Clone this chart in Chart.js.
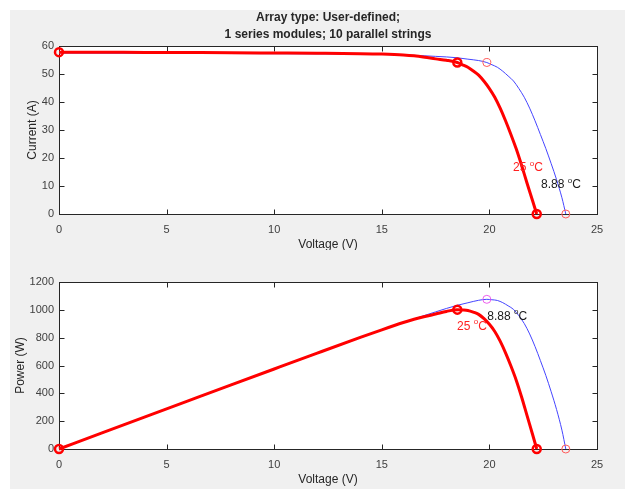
<!DOCTYPE html>
<html>
<head>
<meta charset="utf-8">
<script src="https://cdn.jsdelivr.net/npm/chart.js@4.4.1/dist/chart.umd.min.js"></script>
<style>
  html, body { margin: 0; padding: 0; background: #ffffff; }
  #fig { position: absolute; left: 10px; top: 10px; width: 615px; height: 479px; background: #f0f0f0; }
  canvas { position: absolute; left: 0; }
  #ivChart { top: 0; }
  #pvChart { top: 250px; }
</style>
</head>
<body>
<div id="fig"></div>
<canvas id="ivChart" width="625" height="250"></canvas>
<canvas id="pvChart" width="625" height="239"></canvas>
<script>
// 25 degC curve
const redV = [0, 2, 4, 6, 8, 10, 12, 14, 15, 16, 16.5, 17, 17.5, 18, 18.51, 18.75, 19, 19.25, 19.5, 19.75, 20, 20.25, 20.5, 20.75, 21, 21.25, 21.5, 21.75, 22, 22.2];
const redI = [57.8, 57.75, 57.7, 57.65, 57.6, 57.5, 57.4, 57.25, 57.1, 56.8, 56.5, 56.0, 55.4, 54.9, 54.1, 53.3, 52.4, 51.1, 49.6, 47.4, 44.8, 41.7, 37.8, 33.3, 28.4, 23.2, 17.3, 11.0, 4.9, 0];
const redP = [0, 115.5, 230.8, 345.9, 460.8, 575, 688.8, 801.5, 856.5, 908.8, 932.3, 952, 969.5, 988.2, 1001.4, 999.4, 995.6, 983.7, 967.2, 936.2, 896, 844.4, 774.9, 691, 596.4, 493, 372, 239.3, 107.8, 0];

// 8.88 degC curve
const blueV = [0, 5, 10, 15, 16, 17, 17.5, 18, 18.5, 19, 19.5, 19.88, 20.12, 20.37, 20.62, 20.87, 21.12, 21.37, 21.62, 21.87, 22.12, 22.37, 22.62, 22.87, 23.12, 23.37, 23.55];
const blueI = [57.5, 57.4, 57.25, 57.0, 56.8, 56.5, 56.3, 56.1, 55.8, 55.3, 54.8, 54.1, 53.3, 52.4, 51.0, 49.3, 47.5, 44.8, 41.7, 37.8, 33.3, 28.4, 23.4, 18.0, 12.3, 5.8, 0];
const blueP = [0, 287, 572.5, 855, 908.8, 960.5, 985.3, 1009.8, 1032.3, 1050.7, 1068.6, 1075.5, 1072.4, 1067.4, 1051.6, 1028.9, 1003.2, 957.4, 901.6, 826.7, 736.6, 635.3, 529.3, 411.7, 284.4, 135.5, 0];

// marked points: Isc, MPP, Voc
const redMarkV = [0, 18.51, 22.2];
const redMarkI = [57.8, 54.1, 0];
const redMarkP = [0, 1001.4, 0];
const blueMarkV = [19.88, 23.55];
const blueMarkI = [54.1, 0];
const blueMarkP = [1075.5, 0];

const xTicks = [0, 5, 10, 15, 20, 25];
const iTicks = [0, 10, 20, 30, 40, 50, 60];
const pTicks = [0, 200, 400, 600, 800, 1000, 1200];

const FONT = '"Liberation Sans", Arial, Helvetica, sans-serif';
const AXC = '#262626';

function pts(xs, ys) {
  return xs.map((v, i) => ({x: v, y: ys[i]}));
}

function degLabel(ctx, num, x, y, color) {
  ctx.textAlign = 'left';
  ctx.textBaseline = 'middle';
  ctx.fillStyle = color;
  ctx.font = '12px ' + FONT;
  let s = num + ' ';
  ctx.fillText(s, x, y);
  let w = ctx.measureText(s).width;
  ctx.font = '8px ' + FONT;
  ctx.fillText('o', x + w, y - 4);
  w += ctx.measureText('o').width;
  ctx.font = '12px ' + FONT;
  ctx.fillText('C', x + w, y);
}

// white axes, box + inward ticks like matlab, and the texts
const matlabAxes = {
  id: 'matlabAxes',
  beforeDatasetsDraw(chart, args, o) {
    const ctx = chart.ctx, a = chart.chartArea;
    const x = chart.scales.x, y = chart.scales.y;
    ctx.save();
    const L = Math.round(a.left) + 0.5, R = Math.round(a.right) + 0.5;
    const T = Math.round(a.top) + 0.5, B = Math.round(a.bottom) + 0.5;
    ctx.fillStyle = '#ffffff';
    ctx.fillRect(L, T, R - L, B - T);
    ctx.strokeStyle = AXC;
    ctx.lineWidth = 1;
    ctx.strokeRect(L, T, R - L, B - T);
    ctx.beginPath();
    x.ticks.forEach(t => {
      const px = Math.round(x.getPixelForValue(t.value)) + 0.5;
      ctx.moveTo(px, B); ctx.lineTo(px, B - 5);
      ctx.moveTo(px, T); ctx.lineTo(px, T + 5);
    });
    y.ticks.forEach(t => {
      const py = Math.round(y.getPixelForValue(t.value)) + 0.5;
      ctx.moveTo(L, py); ctx.lineTo(L + 5, py);
      ctx.moveTo(R, py); ctx.lineTo(R - 5, py);
    });
    ctx.stroke();
    ctx.restore();
  },
  afterDraw(chart, args, o) {
    const ctx = chart.ctx, a = chart.chartArea;
    const x = chart.scales.x, y = chart.scales.y;
    ctx.save();
    ctx.fillStyle = AXC;
    if (o.title) {
      ctx.font = 'bold 12px ' + FONT;
      ctx.textAlign = 'center';
      ctx.textBaseline = 'middle';
      o.title.forEach((line, i) => ctx.fillText(line, (a.left + a.right) / 2, 18 + i * 17));
    }
    ctx.font = '12px ' + FONT;
    ctx.textAlign = 'center';
    ctx.textBaseline = 'middle';
    ctx.fillText(o.xTitle, (a.left + a.right) / 2, a.bottom + 31);
    ctx.save();
    ctx.translate(o.yTitleX, (a.top + a.bottom) / 2);
    ctx.rotate(-Math.PI / 2);
    ctx.fillText(o.yTitle, 0, 0);
    ctx.restore();
    o.notes.forEach(n => {
      degLabel(ctx, n.text, x.getPixelForValue(n.x), y.getPixelForValue(n.y), n.color);
    });
    ctx.restore();
  }
};

function makeChart(id, redY, blueY, redMarkY, blueMarkY, blueMarkColors, yTicks, pad, opts) {
  const ctx = document.getElementById(id).getContext('2d');
  return new Chart(ctx, {
    type: 'scatter',
    data: {
      datasets: [{
        label: 'red marks',
        data: pts(redMarkV, redMarkY),
        showLine: false,
        pointStyle: 'circle',
        pointRadius: 4,
        pointBorderWidth: 2.5,
        pointBorderColor: '#ff0000',
        pointBackgroundColor: 'rgba(0,0,0,0)',
        clip: false
      }, {
        label: 'blue marks',
        data: pts(blueMarkV, blueMarkY),
        showLine: false,
        pointRadius: 4,
        pointBorderWidth: 1,
        pointBorderColor: blueMarkColors,
        pointBackgroundColor: 'rgba(0,0,0,0)',
        clip: false
      }, {
        label: '25 C',
        data: pts(redV, redY),
        showLine: true,
        borderColor: '#ff0000',
        borderWidth: 3,
        pointRadius: 0,
        cubicInterpolationMode: 'monotone',
        clip: false
      }, {
        label: '8.88 C',
        data: pts(blueV, blueY),
        showLine: true,
        borderColor: '#4545ff',
        borderWidth: 1,
        pointRadius: 0,
        cubicInterpolationMode: 'monotone',
        clip: false
      }]
    },
    options: {
      responsive: false,
      animation: false,
      events: [],
      layout: { padding: pad },
      plugins: {
        legend: { display: false },
        tooltip: { enabled: false },
        matlabAxes: opts
      },
      scales: {
        x: {
          type: 'linear', min: 0, max: 25,
          afterBuildTicks: s => { s.ticks = xTicks.map(v => ({value: v})); },
          afterFit: s => { s.height = 20; },
          grid: { display: false, drawTicks: false },
          border: { display: false },
          ticks: { color: '#404040', font: { family: FONT, size: 11 }, padding: 9, maxRotation: 0,
                   callback: v => String(v) }
        },
        y: {
          type: 'linear', min: 0, max: yTicks[yTicks.length - 1],
          afterBuildTicks: s => { s.ticks = yTicks.map(v => ({value: v})); },
          afterFit: s => { s.width = 45; },
          grid: { display: false, drawTicks: false },
          border: { display: false },
          ticks: { color: '#404040', font: { family: FONT, size: 11 }, padding: 5,
                   callback: v => String(v) }
        }
      }
    },
    plugins: [matlabAxes]
  });
}

makeChart('ivChart', redI, blueI, redMarkI, blueMarkI, ['#ff5a5a', '#ff5a5a'], iTicks,
  { left: 14, right: 28, top: 46, bottom: 16 },
  {
    title: ['Array type: User-defined;', '1 series modules; 10 parallel strings'],
    xTitle: 'Voltage (V)', yTitle: 'Current (A)', yTitleX: 33,
    notes: [
      { text: '25', x: 21.1, y: 16.4, color: '#ff2020' },
      { text: '8.88', x: 22.4, y: 10.3, color: '#1a1a1a' }
    ]
  });

makeChart('pvChart', redP, blueP, redMarkP, blueMarkP, ['#ee60ee', '#ff5a5a'], pTicks,
  { left: 14, right: 28, top: 32, bottom: 20 },
  {
    xTitle: 'Voltage (V)', yTitle: 'Power (W)', yTitleX: 21,
    notes: [
      { text: '25', x: 18.5, y: 882, color: '#ff2020' },
      { text: '8.88', x: 19.9, y: 954, color: '#1a1a1a' }
    ]
  });
</script>
</body>
</html>
